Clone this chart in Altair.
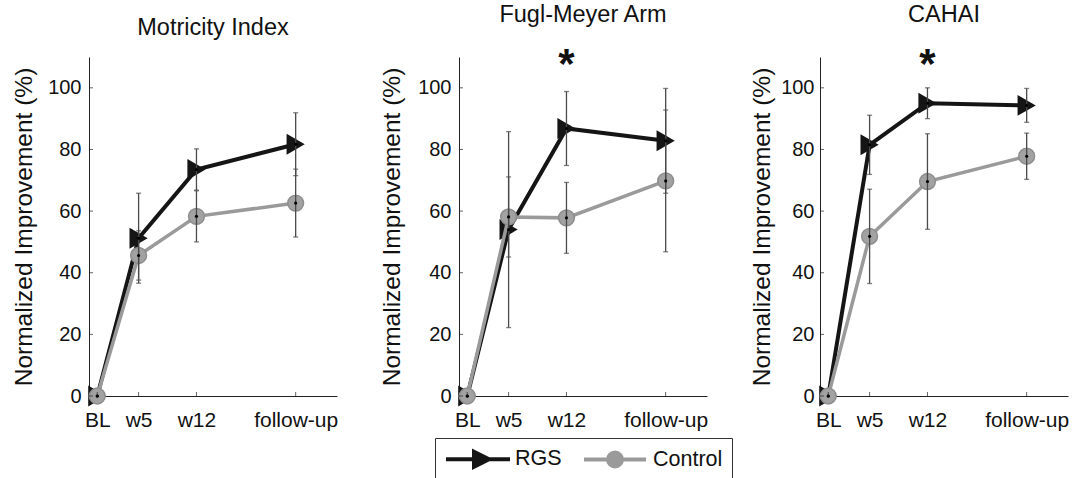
import altair as alt
import pandas as pd

# ---------------- data ----------------
measures = ["Motricity Index", "Fugl-Meyer Arm", "CAHAI"]
timepoints = ["BL", "w5", "w12", "follow-up"]
weeks = [0, 5, 12, 24]
groups = ["RGS", "Control"]

mi_rgs_mean = [0, 51.2, 73.5, 81.7]
mi_rgs_err = [0, 14.6, 6.7, 10.2]
mi_ctl_mean = [0, 45.6, 58.3, 62.6]
mi_ctl_err = [0, 8.0, 8.3, 11.0]

fm_rgs_mean = [0, 54.0, 86.8, 82.8]
fm_rgs_err = [0, 31.8, 12.0, 17.0]
fm_ctl_mean = [0, 58.1, 57.8, 69.8]
fm_ctl_err = [0, 13.0, 11.5, 23.0]

ca_rgs_mean = [0, 81.5, 95.0, 94.3]
ca_rgs_err = [0, 9.6, 5.0, 5.5]
ca_ctl_mean = [0, 51.8, 69.6, 77.8]
ca_ctl_err = [0, 15.3, 15.5, 7.5]

sig_measures = ["Fugl-Meyer Arm", "CAHAI"]
sig_timepoint = "w12"

y_ticks = [0, 20, 40, 60, 80, 100]

series = {
    ("Motricity Index", "RGS"): (mi_rgs_mean, mi_rgs_err),
    ("Motricity Index", "Control"): (mi_ctl_mean, mi_ctl_err),
    ("Fugl-Meyer Arm", "RGS"): (fm_rgs_mean, fm_rgs_err),
    ("Fugl-Meyer Arm", "Control"): (fm_ctl_mean, fm_ctl_err),
    ("CAHAI", "RGS"): (ca_rgs_mean, ca_rgs_err),
    ("CAHAI", "Control"): (ca_ctl_mean, ca_ctl_err),
}

rows = []
for (m, g), (means, errs) in series.items():
    for tp, wk, mu, e in zip(timepoints, weeks, means, errs):
        rows.append({"measure": m, "group": g, "tp": tp, "week": wk,
                     "mean": mu, "err": e, "lo": mu - e, "hi": mu + e})
df = pd.DataFrame(rows)

# ---------------- styling ----------------
FONT = "Liberation Sans"
BLACK = "#151515"
GREY = "#9a9a9a"
ERR = "#4a4a4a"
X_DOMAIN = [-1, 29]
Y_DOMAIN = [0, 110]
W, H = 248, 339

label_expr = " : ".join(
    f"datum.value == {wk} ? '{tp}'" for wk, tp in zip(weeks, timepoints)
) + " : ''"

x_scale = alt.Scale(domain=X_DOMAIN, nice=False, zero=False)
y_scale = alt.Scale(domain=Y_DOMAIN, nice=False)

panel_axis = {
    "Motricity Index": dict(labelPadding=8, titlePadding=11),
    "Fugl-Meyer Arm": dict(labelPadding=8, titlePadding=13),
    "CAHAI": dict(labelPadding=6, titlePadding=6),
}


def xenc(field):
    return alt.X(field, type="quantitative", scale=x_scale,
                 axis=alt.Axis(values=weeks, labelExpr=label_expr, title=None,
                               ticks=False, grid=False, labelFontSize=21,
                               labelPadding=13, labelFont=FONT, labelColor="#111",
                               domainColor="#222", labelFlush=False))


def yenc(field, measure):
    pa = panel_axis[measure]
    return alt.Y(field, type="quantitative", scale=y_scale,
                 axis=alt.Axis(values=y_ticks, title="Normalized Improvement (%)",
                               ticks=False, grid=False, labelFontSize=20,
                               labelFont=FONT, labelColor="#111",
                               titleFont=FONT, titleFontSize=24.5,
                               titleFontWeight="normal", titleColor="#111",
                               domainColor="#222", labelFlush=False, **pa))


# legend glyphs: line + marker, drawn with strokes only (outer + inner outline)
rgs_path = ("M-1,0H5.4"
            "M1.8,-0.75L3.3,0L1.8,0.75Z"
            "M2.075,-0.34L2.75,0L2.075,0.34Z")
ctl_path = ("M-1,0H5.2"
            "M2.8,0A0.7,0.7 0 1 1 1.4,0A0.7,0.7 0 1 1 2.8,0Z"
            "M2.4,0A0.3,0.3 0 1 1 1.8,0A0.3,0.3 0 1 1 2.4,0Z")


def panel(measure, with_legend=False):
    d = df[df.measure == measure]
    base = alt.Chart(d)
    rgs = base.transform_filter(alt.datum.group == "RGS")
    ctl = base.transform_filter(alt.datum.group == "Control")
    errs = base.transform_filter(alt.datum.err > 0)

    layers = [
        rgs.mark_line(color=BLACK, strokeWidth=4).encode(
            x=xenc("week"), y=yenc("mean", measure)),
        rgs.mark_point(shape="triangle-right", filled=True, size=440,
                       color=BLACK, opacity=1).encode(
            x=xenc("week"), y=yenc("mean", measure)),
        ctl.mark_line(color=GREY, strokeWidth=3.5).encode(
            x=xenc("week"), y=yenc("mean", measure)),
        ctl.mark_point(shape="circle", filled=True, size=250, fill="#a2a2a2",
                       stroke="#8e8e8e", strokeWidth=1.5, opacity=1).encode(
            x=xenc("week"), y=yenc("mean", measure)),
        errs.mark_rule(color=ERR, strokeWidth=1.3).encode(
            x=xenc("week"), y=yenc("lo", measure), y2="hi"),
        errs.mark_tick(orient="horizontal", size=5, thickness=1.3,
                       color=ERR).encode(
            x=xenc("week"), y=yenc("lo", measure)),
        errs.mark_tick(orient="horizontal", size=5, thickness=1.3,
                       color=ERR).encode(
            x=xenc("week"), y=yenc("hi", measure)),
        base.mark_point(filled=True, size=10, color="#000", opacity=1).encode(
            x=xenc("week"), y=yenc("mean", measure)),
        # inward tick marks (matlab style)
        alt.Chart(pd.DataFrame({"week": weeks})).mark_tick(
            orient="vertical", size=4, thickness=1, color="#222", yOffset=-2
        ).encode(x=xenc("week"), y=alt.datum(Y_DOMAIN[0])),
        alt.Chart(pd.DataFrame({"v": y_ticks})).mark_tick(
            orient="horizontal", size=4, thickness=1, color="#222", xOffset=2
        ).encode(x=alt.datum(X_DOMAIN[0]), y=yenc("v", measure)),
    ]

    if measure in sig_measures:
        wk = weeks[timepoints.index(sig_timepoint)]
        layers.append(
            alt.Chart(pd.DataFrame({"week": [wk]})).mark_text(
                text="*", font=FONT, fontSize=42, fontWeight="bold",
                color="#111", baseline="middle", dy=8
            ).encode(x=xenc("week"), y=alt.datum(Y_DOMAIN[1]))
        )

    if with_legend:
        leg = alt.Legend(title=None, orient="none", legendX=346, legendY=381,
                         direction="horizontal", columns=2,
                         symbolSize=400, symbolStrokeWidth=4,
                         labelFontSize=21.5, labelFont=FONT, labelColor="#111",
                         labelOffset=47, columnPadding=14, padding=9,
                         strokeColor="#333", labelLimit=0)
        ld = pd.DataFrame({"group": groups})
        layers.append(
            alt.Chart(ld).mark_point(filled=False, opacity=0).encode(
                stroke=alt.Stroke("group:N", scale=alt.Scale(domain=groups, range=[BLACK, GREY]), legend=leg),
                shape=alt.Shape("group:N", scale=alt.Scale(domain=groups, range=[rgs_path, ctl_path]), legend=leg),
            )
        )

    return alt.layer(*layers).properties(
        width=W, height=H,
        title=alt.TitleParams(measure, font=FONT, fontSize=23.5, fontWeight="normal",
                              color="#111", anchor="middle", frame="group",
                              baseline="alphabetic", offset=-1),
    )


chart = alt.hconcat(
    panel(measures[0]), panel(measures[1], with_legend=True), panel(measures[2]),
    spacing=41,
).properties(
    padding={"left": 11, "top": 2, "right": 2, "bottom": 0},
    background="white",
).configure_view(stroke=None)

chart.save("out.html", embed_options={"renderer": "svg", "actions": False})
